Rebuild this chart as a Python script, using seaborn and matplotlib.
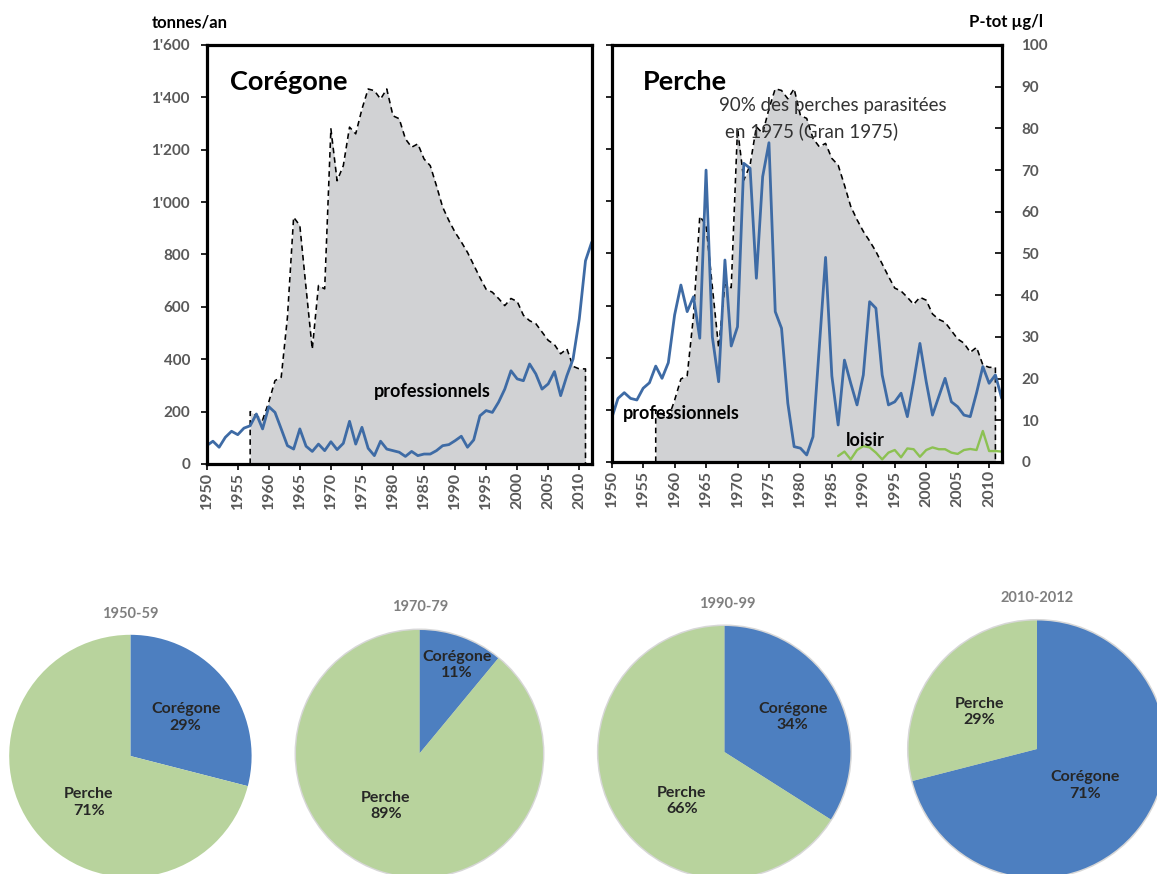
import numpy as np
import pandas as pd
import matplotlib
matplotlib.use("Agg")
import matplotlib.pyplot as plt
import seaborn as sns
from matplotlib.patches import Circle

# ---------------- data ----------------
years = list(range(1950, 2013))
coregone_pro = [70, 87, 64, 102, 125, 112, 137, 146, 191, 134,
                219, 197, 134, 70, 57, 134, 68, 48, 76, 51,
                85, 55, 79, 163, 76, 140, 60, 32, 87, 57,
                51, 45, 29, 48, 32, 38, 38, 51, 70, 74,
                89, 106, 64, 92, 184, 204, 197, 236, 286, 356,
                325, 318, 382, 344, 286, 306, 353, 261, 337, 401,
                554, 776, 847]
perche_pro = [168, 244, 266, 244, 238, 283, 304, 368, 321, 381,
              564, 679, 577, 634, 475, 1120, 480, 308, 775, 445,
              519, 1146, 1127, 705, 1095, 1225, 577, 513, 225, 59,
              53, 27, 97, 440, 785, 330, 142, 391, 302, 219,
              334, 615, 590, 334, 219, 231, 264, 174, 308, 455,
              308, 180, 251, 321, 231, 212, 180, 174, 265, 366,
              302, 334, 244]
loisir_years = list(range(1986, 2013))
perche_loisir = [23, 40, 10, 46, 61, 56, 36, 10, 36, 46, 18, 52, 49, 20,
                 46, 56, 49, 49, 36, 31, 46, 50, 46, 119, 42, 42, 40]
ptot_years = list(range(1957, 2012))
ptot = [12.5, 11.5, 10.5, 14.8, 19.9, 20.7, 35.0, 58.9, 56.9, 42.0, 27.4, 42.6, 41.8,
        80.0, 67.6, 71.2, 80.4, 78.8, 84.7, 89.5, 89.1, 87.1, 89.5,
        83.1, 82.4, 77.6, 75.6, 76.4, 72.8, 71.2, 66.4, 61.3, 58.1,
        55.3, 53.0, 50.5, 47.5, 44.5, 41.7, 41.0, 39.5, 37.8, 39.5,
        38.8, 35.5, 34.2, 33.5, 31.5, 29.5, 28.5, 26.3, 27.5, 23.3, 22.7, 22.7]

tonnes_ticks = [0, 200, 400, 600, 800, 1000, 1200, 1400, 1600]
tonnes_labels = ["0", "200", "400", "600", "800", "1'000", "1'200", "1'400", "1'600"]
ptot_ticks = list(range(0, 101, 10))
year_ticks = list(range(1950, 2011, 5))

pie_periods = ["1950-59", "1970-79", "1990-99", "2010-2012"]
pie_coregone = [29, 11, 34, 71]
pie_perche = [71, 89, 66, 29]
species = ["Corégone", "Perche"]

# ---------------- style ----------------
sns.set_theme(style="white")
plt.rcParams['font.family'] = ['Lato', 'DejaVu Sans']

W, H = 1157, 874
fig = plt.figure(figsize=(W / 100, H / 100), dpi=100)
fig.patch.set_facecolor('white')


def rect(x0, y0, x1, y1):
    return [x0 / W, 1 - y1 / H, (x1 - x0) / W, (y1 - y0) / H]


def fx(x):
    return x / W


def fy(y):
    return 1 - y / H


BLUE = '#3e6ba5'
GREEN = '#8cc152'
FILL = '#d1d2d4'
TICK = '#595959'
PIE_BLUE = '#4d7fc0'
PIE_GREEN = '#b8d39d'

df_c = pd.DataFrame({'annee': years, 'tonnes': coregone_pro})
df_p = pd.DataFrame({'annee': years, 'tonnes': perche_pro})
df_l = pd.DataFrame({'annee': loisir_years, 'tonnes': perche_loisir})


def panel(box, right_labels):
    ax = fig.add_axes(rect(*box))
    axp = ax.twinx()
    axp.fill_between(ptot_years, ptot, color=FILL, lw=0)
    xs = [ptot_years[0]] + ptot_years + [ptot_years[-1]]
    ys = [0] + ptot + [0]
    axp.plot(xs, ys, color='black', lw=1.15, ls=(0, (3.5, 2.5)))
    axp.set_ylim(0, 100)
    ax.set_zorder(axp.get_zorder() + 1)
    ax.patch.set_visible(False)
    for sp in ax.spines.values():
        sp.set_visible(True)
        sp.set_color('black')
        sp.set_linewidth(2.3)
    for sp in axp.spines.values():
        sp.set_visible(False)
    if right_labels:
        axp.set_yticks(ptot_ticks)
        axp.set_yticklabels([str(v) for v in ptot_ticks], fontweight='bold',
                            color=TICK, fontsize=11)
        axp.tick_params(axis='y', right=True, left=False, direction='in', length=5,
                        width=1.2, color='black', pad=14)
    else:
        axp.set_yticks([])
    axp.grid(False)
    return ax, axp


def finish(ax, left_labels):
    ax.set_xlabel('')
    ax.set_ylabel('')
    ax.set_xlim(1950, 2012)
    ax.set_ylim(0, 1600)
    ax.set_xticks(year_ticks)
    ax.set_xticklabels([str(y) for y in year_ticks], rotation=90,
                       fontweight='bold', color=TICK, fontsize=11.5)
    ax.tick_params(axis='x', bottom=True, top=False, direction='out', length=4,
                   width=1.2, color='black', pad=1.5)
    ax.set_yticks(tonnes_ticks)
    if left_labels:
        ax.set_yticklabels(tonnes_labels, fontweight='bold', color=TICK, fontsize=11)
    else:
        ax.set_yticklabels([])
    ax.tick_params(axis='y', left=True, right=False, direction='out', length=4,
                   width=1.2, color='black', pad=8)
    ax.grid(False)


axL, axLp = panel((206.7, 45, 591.7, 464), right_labels=False)
axR, axRp = panel((611.7, 45, 1001.7, 462), right_labels=True)

sns.lineplot(data=df_c, x='annee', y='tonnes', ax=axL, color=BLUE, lw=2.0, legend=False)
sns.lineplot(data=df_p, x='annee', y='tonnes', ax=axR, color=BLUE, lw=2.0, legend=False)
sns.lineplot(data=df_l, x='annee', y='tonnes', ax=axR, color=GREEN, lw=1.7, legend=False)
finish(axL, True)
finish(axR, False)

# ---------------- texts ----------------
fig.text(fx(190), fy(22), "tonnes/an", ha='center', va='center', fontweight='bold',
         fontsize=12, color='black')
fig.text(fx(1006), fy(22), "P-tot µg/l", ha='center', va='center', fontweight='bold',
         fontsize=12, color='black')
fig.text(fx(230), fy(82), "Corégone", ha='left', va='center', fontweight='bold',
         fontsize=19.5, color='black')
fig.text(fx(643), fy(82), "Perche", ha='left', va='center', fontweight='bold',
         fontsize=19.5, color='black')
fig.text(fx(719), fy(106), "90% des perches parasitées", ha='left', va='center',
         fontsize=13.5, color='#333333')
fig.text(fx(725), fy(131), "en 1975 (Gran 1975)", ha='left', va='center',
         fontsize=13.5, color='#333333')
fig.text(fx(432.5), fy(392), "professionnels", ha='center', va='center',
         fontweight='bold', fontsize=13, color='black')
fig.text(fx(681.7), fy(414), "professionnels", ha='center', va='center',
         fontweight='bold', fontsize=13, color='black')
fig.text(fx(865), fy(440), "loisir", ha='center', va='center',
         fontweight='bold', fontsize=13, color='black')

# ---------------- pies ----------------
pie_geom = [(130.4, 756, 121.2), (419.5, 753.5, 123.5), (724.4, 752, 126), (1037, 749, 128.5)]
pie_title_pos = [(130.2, 613.5), (420, 607.3), (727.2, 604), (1037, 598.3)]
pie_label_pos = [((185.6, 717.7), (88.8, 802.5)),
                 ((457.0, 665.0), (385.9, 806.0)),
                 ((792.7, 717.0), (681.9, 801.0)),
                 ((1085.1, 785.5), (979.2, 712.0))]
pie_shadow = [False, True, True, True]

for i, (cx, cy, r) in enumerate(pie_geom):
    m = 1.03
    ax = fig.add_axes(rect(cx - r * m, cy - r * m, cx + r * m, cy + r * m))
    vals = [pie_coregone[i], pie_perche[i]]
    if pie_shadow[i]:
        ax.add_patch(Circle((0, 0), 1.012, color='#cdcdcd', alpha=0.8, zorder=0, lw=0))
    ax.pie(vals, colors=[PIE_BLUE, PIE_GREEN], startangle=90, counterclock=False,
           radius=1, wedgeprops=dict(linewidth=0))
    ax.set_xlim(-m, m)
    ax.set_ylim(-m, m)
    ax.set_aspect('equal')
    ax.axis('off')
    for j, name in enumerate(species):
        px, py = pie_label_pos[i][j]
        ax.text((px - cx) / r, (cy - py) / r, f"{name}\n{vals[j]}%", ha='center',
                va='center', fontweight='bold', fontsize=11.5, color='#262626',
                linespacing=1.25)
    tx, ty = pie_title_pos[i]
    fig.text(fx(tx), fy(ty), pie_periods[i], ha='center', va='center',
             fontweight='bold', fontsize=10.5, color='#7f7f7f')

fig.savefig("out.png", dpi=100)
